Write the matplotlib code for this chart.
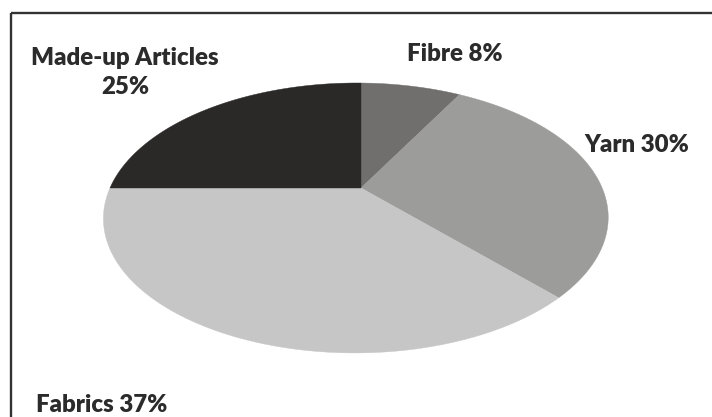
import numpy as np
import matplotlib
matplotlib.use('Agg')
import matplotlib.pyplot as plt
from matplotlib.patches import Polygon, Rectangle
from matplotlib.transforms import Affine2D

# data
labels = ['Fibre', 'Yarn', 'Fabrics', 'Made-up Articles']
shares = [8, 30, 37, 25]
colors = ['#706f6d', '#9c9d9b', '#c5c6c5', '#2b2928']

# label text and where they sit (pixels)
label_text = ['Fibre 8%', 'Yarn 30%', 'Fabrics 37%', 'Made-up Articles\n25%']
label_pos = [(455, 61), (637, 152), (102, 412), (125, 94)]

# perspective of the tilted pie (pixels)
cx, cy = 361, 188
ax_x, ax_y = 246, 128.3
k_tilt, h_tilt = 0.222, 0.02

fig = plt.figure(figsize=(7.12, 4.17), dpi=100)
ax = fig.add_axes([0, 0, 1, 1])
ax.set_xlim(0, 712)
ax.set_ylim(417, 0)
ax.axis('off')

# build the wedges with pie on a scratch axes, then project them
tmp = fig.add_axes([0, 0, 0.05, 0.05])
wedges, _ = tmp.pie(shares, colors=colors, startangle=90, counterclock=False, radius=1)
scale = 1000.0  # flatten arcs finely
polys = [w.get_path().to_polygons(transform=Affine2D().scale(scale))[0] / scale for w in wedges]
tmp.remove()

for poly, c in zip(polys, colors):
    x, y = poly[:, 0], poly[:, 1]
    d = 1 + k_tilt * y + h_tilt * x
    px = cx + ax_x * x / d
    py = cy - ax_y * y / d
    ax.add_patch(Polygon(np.column_stack([px, py]), closed=True,
                         facecolor=c, edgecolor=c, linewidth=0.3))

# frame
ax.add_patch(Rectangle((11, 13), 900, 600, fill=False, edgecolor='#333333', linewidth=1.7))

for txt, (x, y) in zip(label_text, label_pos):
    ax.text(x, y, txt, ha='center', va='baseline', fontsize=17.3, fontweight='heavy',
            family='Lato', color='#2b2b2b', linespacing=1.4, multialignment='center')

fig.savefig('out.png', dpi=100)
